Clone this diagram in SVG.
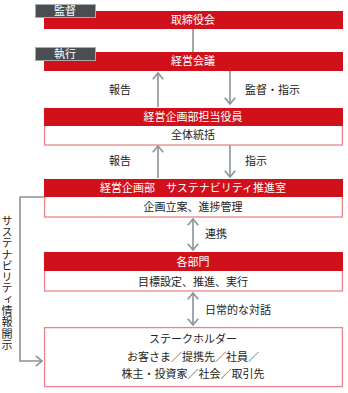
<svg xmlns="http://www.w3.org/2000/svg" width="348" height="393" viewBox="0 0 348 393">
<defs>
<style>
text{font-family:"Noto Sans CJK JP","Noto Sans",sans-serif;font-size:11px}
.hd{fill:#d0111b}
.bd{fill:#fff;stroke:#e8858a;stroke-width:1.3}
.wt{fill:#fff;text-anchor:middle}
.bk{fill:#222;text-anchor:middle}
.lb{fill:#222}
.tab{fill:#4a4e51;stroke:#a9acae;stroke-width:1}
.ln{fill:none;stroke:#8a9399;stroke-width:1.6}
</style>
<marker id="ah" viewBox="0 0 8 12" refX="7" refY="6" markerWidth="8" markerHeight="12" markerUnits="userSpaceOnUse" orient="auto-start-reverse">
<path d="M0.8,0.8 L7,6 L0.8,11.2" fill="none" stroke="#8a9399" stroke-width="1.6"/>
</marker>
</defs>
<g id="connectors">
<path class="ln" d="M193,29 V52"/>
<path class="ln" d="M158,107 V73" marker-end="url(#ah)"/>
<path class="ln" d="M230,71 V104" marker-end="url(#ah)"/>
<path class="ln" d="M158,178 V146" marker-end="url(#ah)"/>
<path class="ln" d="M230,145 V177" marker-end="url(#ah)"/>
<path class="ln" d="M193,219 V250" marker-start="url(#ah)" marker-end="url(#ah)"/>
<path class="ln" d="M193,293 V325" marker-start="url(#ah)" marker-end="url(#ah)"/>
<path class="ln" d="M44,197 H20 V361 H42" marker-end="url(#ah)"/>
<text class="lb" x="109" y="94">報告</text>
<text class="lb" x="245" y="94">監督・指示</text>
<text class="lb" x="109" y="165">報告</text>
<text class="lb" x="245" y="165">指示</text>
<text class="lb" x="205" y="238">連携</text>
<text class="lb" x="205" y="314">日常的な対話</text>
<text class="lb" x="7" y="215" style="writing-mode:vertical-rl;letter-spacing:0.3px">サステナビリティ情報開示</text>
</g>
<g id="board">
<rect class="hd" x="44" y="11" width="299" height="18"/>
<text class="wt" x="193" y="24">取締役会</text>
</g>
<g id="tab-kantoku">
<rect class="tab" x="35.5" y="4.5" width="60" height="13"/>
<text class="wt" x="65" y="15">監督</text>
</g>
<g id="mgmt-meeting">
<rect class="hd" x="44" y="52" width="299" height="19"/>
<text class="wt" x="193" y="65">経営会議</text>
</g>
<g id="tab-shikko">
<rect class="tab" x="35.5" y="47.5" width="60" height="13"/>
<text class="wt" x="65" y="58">執行</text>
</g>
<g id="officer">
<rect class="bd" x="44.6" y="108.6" width="297.8" height="36.4"/>
<rect class="hd" x="44" y="108" width="299" height="18"/>
<text class="wt" x="193" y="121">経営企画部担当役員</text>
<text class="bk" x="193" y="139">全体統括</text>
</g>
<g id="planning">
<rect class="bd" x="44.6" y="179.6" width="297.8" height="37.4"/>
<rect class="hd" x="44" y="179" width="299" height="18"/>
<text class="wt" x="193" y="192">経営企画部　サステナビリティ推進室</text>
<text class="bk" x="193" y="211">企画立案、進捗管理</text>
</g>
<g id="departments">
<rect class="bd" x="44.6" y="252.6" width="297.8" height="38.4"/>
<rect class="hd" x="44" y="252" width="299" height="19"/>
<text class="wt" x="193" y="266">各部門</text>
<text class="bk" x="193" y="286">目標設定、推進、実行</text>
</g>
<g id="stakeholders">
<rect class="bd" x="44.6" y="327.6" width="297.8" height="59"/>
<text class="bk" x="193" y="343">ステークホルダー</text>
<text class="bk" x="193" y="361">お客さま／提携先／社員／</text>
<text class="bk" x="193" y="378">株主・投資家／社会／取引先</text>
</g>
</svg>
